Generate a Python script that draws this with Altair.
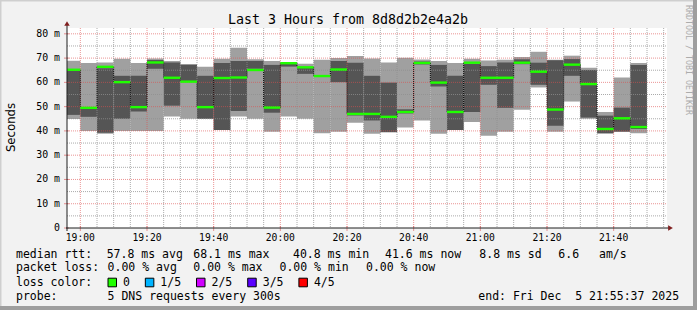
import altair as alt
import pandas as pd

# ---------------- data ----------------
bar_end = ["19:00", "19:05", "19:10", "19:15", "19:20", "19:25", "19:30", "19:35", "19:40", "19:45",
           "19:50", "19:55", "20:00", "20:05", "20:10", "20:15", "20:20", "20:25", "20:30", "20:35",
           "20:40", "20:45", "20:50", "20:55", "21:00", "21:05", "21:10", "21:15", "21:20", "21:25",
           "21:30", "21:35", "21:40", "21:45", "21:50"]
light_lo = [44.9, 40.0, 38.8, 40.0, 40.0, 40.0, 45.9, 45.0, 45.0, 40.4, 45.9, 45.0, 39.7, 45.9, 45.0,
            39.0, 39.7, 43.4, 38.8, 39.5, 41.4, 44.3, 38.8, 40.4, 43.7, 38.0, 39.7, 48.7, 57.9, 39.7,
            52.1, 45.0, 39.0, 39.7, 39.0]
light_hi = [68.9, 68.0, 68.2, 69.7, 68.0, 69.8, 68.8, 67.6, 66.4, 69.7, 74.3, 69.5, 68.8, 68.4, 67.7,
            69.3, 70.0, 70.9, 69.8, 68.2, 70.1, 69.4, 68.8, 68.0, 69.7, 69.0, 69.3, 70.5, 72.6, 69.3,
            71.0, 66.0, 47.8, 62.0, 68.0]
dark_lo = [46.6, 45.8, 39.2, 45.0, 48.0, 65.6, 50.4, 60.3, 45.0, 40.4, 48.2, 65.6, 47.5, 66.5, 63.5,
           62.6, 60.1, 46.3, 44.3, 39.5, 47.2, 67.4, 58.3, 40.4, 47.8, 59.0, 49.5, 67.5, 59.0, 42.1,
           62.7, 45.5, 39.0, 39.7, 40.8]
dark_hi = [65.0, 49.5, 65.8, 62.7, 62.7, 69.2, 68.2, 67.2, 62.7, 68.0, 68.8, 68.8, 67.2, 67.9, 66.4,
           62.6, 68.8, 68.1, 62.7, 59.9, 48.9, 68.6, 67.2, 62.7, 67.6, 66.7, 68.2, 69.5, 68.1, 69.1,
           69.6, 65.1, 46.3, 49.6, 67.2]
median = [65.2, 49.5, 66.4, 60.1, 49.8, 68.2, 61.9, 60.3, 49.8, 61.8, 62.0, 65.1, 49.6, 67.9, 66.2,
          62.6, 65.3, 47.0, 47.0, 45.8, 47.8, 68.0, 59.9, 47.8, 68.1, 61.9, 61.9, 68.1, 64.4, 48.8,
          67.3, 59.3, 40.8, 45.2, 41.6]

y_major = [10, 20, 30, 40, 50, 60, 70, 80]
y_minor = [5, 15, 25, 35, 45, 55, 65, 75]
y_tick_values = [0, 10, 20, 30, 40, 50, 60, 70, 80]
y_tick_labels = ["0", "10 m", "20 m", "30 m", "40 m", "50 m", "60 m", "70 m", "80 m"]
x_tick_labels = ["19:00", "19:20", "19:40", "20:00", "20:20", "20:40", "21:00", "21:20", "21:40"]
x_minor_labels = ["19:05", "19:10", "19:15", "19:25", "19:30", "19:35", "19:45", "19:50", "19:55",
                  "20:05", "20:10", "20:15", "20:25", "20:30", "20:35", "20:45", "20:50", "20:55",
                  "21:05", "21:10", "21:15", "21:25", "21:30", "21:35", "21:45", "21:50", "21:55"]

title_text = "Last 3 Hours from 8d8d2b2e4a2b"
loss_labels = ["0", "1/5", "2/5", "3/5", "4/5"]
loss_colors = ["#20ff00", "#00b4ff", "#d000ff", "#5a00ff", "#ff0000"]

# ---------------- layout ----------------
MONO = "DejaVu Sans Mono"
PL, PT = 67, 28
W, H = 600, 200
X_DOM = [-4.0, 176.0]
xs = alt.Scale(domain=X_DOM)
ys = alt.Scale(domain=[0, 82.4])
GRID = "rgba(143,143,143,0.75)"
MGRID = "rgba(222,79,79,0.6)"


def mins(t):
    h, m = t.split(":")
    return (int(h) - 19) * 60 + int(m)


ends = [mins(t) for t in bar_end]
starts = [max(e - 5, X_DOM[0]) for e in ends]
bars = pd.DataFrame(dict(s=starts, e=ends, llo=light_lo, lhi=light_hi,
                         dlo=dark_lo, dhi=dark_hi, med=median))

layers = []

layers.append(alt.Chart(bars).mark_rect(color="#a0a0a0").encode(
    x=alt.X("s:Q", scale=xs, axis=None), x2="e",
    y=alt.Y("llo:Q", scale=ys, axis=None), y2="lhi"))
layers.append(alt.Chart(bars).mark_rect(color="#555555").encode(
    x=alt.X("s:Q", scale=xs, axis=None), x2="e",
    y=alt.Y("dlo:Q", scale=ys, axis=None), y2="dhi"))

# grid
layers.append(alt.Chart(pd.DataFrame({"v": y_minor})).mark_rule(
    color=GRID, strokeDash=[1, 1], strokeWidth=1).encode(
    y=alt.Y("v:Q", scale=ys, axis=None), x=alt.value(0), x2=alt.value(W)))
layers.append(alt.Chart(pd.DataFrame({"v": y_major})).mark_rule(
    color=MGRID, strokeDash=[1, 1], strokeWidth=1).encode(
    y=alt.Y("v:Q", scale=ys, axis=None), x=alt.value(0), x2=alt.value(W)))
layers.append(alt.Chart(pd.DataFrame({"m": [mins(t) for t in x_minor_labels]})).mark_rule(
    color=GRID, strokeDash=[1, 1], strokeWidth=1).encode(
    x=alt.X("m:Q", scale=xs, axis=None), y=alt.value(0), y2=alt.value(H)))
layers.append(alt.Chart(pd.DataFrame({"m": [mins(t) for t in x_tick_labels]})).mark_rule(
    color=MGRID, strokeDash=[1, 1], strokeWidth=1).encode(
    x=alt.X("m:Q", scale=xs, axis=None), y=alt.value(0), y2=alt.value(H)))

# median transitions (dotted black verticals)
trans = pd.DataFrame([{"x": ends[i - 1], "a": median[i - 1], "b": median[i]}
                      for i in range(1, len(median)) if median[i] != median[i - 1]])
layers.append(alt.Chart(trans).mark_rule(color="#000000", strokeDash=[1, 1], strokeWidth=1).encode(
    x=alt.X("x:Q", scale=xs, axis=None), y=alt.Y("a:Q", scale=ys, axis=None), y2="b"))

# median line
layers.append(alt.Chart(bars).mark_rule(color=loss_colors[0], strokeWidth=2.4).encode(
    x=alt.X("s:Q", scale=xs, axis=None), x2="e",
    y=alt.Y("med:Q", scale=ys, axis=None)))

# axis ticks
layers.append(alt.Chart(pd.DataFrame({"v": y_tick_values})).mark_rule(color=MGRID, strokeWidth=1).encode(
    y=alt.Y("v:Q", scale=ys, axis=None), x=alt.value(-3), x2=alt.value(2)))
layers.append(alt.Chart(pd.DataFrame({"m": [mins(t) for t in x_tick_labels]})).mark_rule(
    color=MGRID, strokeWidth=1).encode(
    x=alt.X("m:Q", scale=xs, axis=None), y=alt.value(H - 2), y2=alt.value(H + 3)))

# axis lines and arrows
layers.append(alt.Chart(pd.DataFrame({"a": [0]})).mark_rule(color="#1f1f1f", strokeWidth=1).encode(
    x=alt.value(-1), x2=alt.value(W + 2), y=alt.value(H)))
layers.append(alt.Chart(pd.DataFrame({"a": [0]})).mark_rule(color="#1f1f1f", strokeWidth=1).encode(
    x=alt.value(0), y=alt.value(H + 3), y2=alt.value(-3)))
layers.append(alt.Chart(pd.DataFrame({"a": [0]})).mark_point(
    shape="triangle-right", filled=True, color="#801f1f", size=30, opacity=1).encode(
    x=alt.value(W + 3.5), y=alt.value(H)))
layers.append(alt.Chart(pd.DataFrame({"a": [0]})).mark_point(
    shape="triangle-up", filled=True, color="#801f1f", size=30, opacity=1).encode(
    x=alt.value(0), y=alt.value(-4.5)))

# tick labels
ylab = pd.DataFrame({"v": y_tick_values,
                     "t": [l if l != "0" else l + "\u00a0\u00a0" for l in y_tick_labels]})
layers.append(alt.Chart(ylab).mark_text(align="right", baseline="middle", font=MONO, fontSize=9.9,
                                        color="#000000").encode(
    y=alt.Y("v:Q", scale=ys, axis=None), x=alt.value(60 - PL), text="t:N"))
xlab = pd.DataFrame({"m": [mins(t) for t in x_tick_labels], "t": x_tick_labels})
layers.append(alt.Chart(xlab).mark_text(align="center", baseline="middle", font=MONO, fontSize=9.7,
                                        color="#000000").encode(
    x=alt.X("m:Q", scale=xs, axis=None), y=alt.value(237.7 - PT), text="t:N"))


def txt(s, x, y, size=11.5, align="left", font=MONO, color="#000000", angle=0):
    return alt.Chart(pd.DataFrame({"t": [s]})).mark_text(
        align=align, baseline="middle", font=font, fontSize=size, color=color, angle=angle).encode(
        x=alt.value(x - PL), y=alt.value(y - PT), text="t:N")


def box(x0, x1, y0, y1, color, stroke=None):
    kw = dict(color=color)
    if stroke:
        kw.update(stroke=stroke, strokeWidth=1)
    return alt.Chart(pd.DataFrame({"a": [0]})).mark_rect(**kw).encode(
        x=alt.value(x0 - PL), x2=alt.value(x1 - PL), y=alt.value(y0 - PT), y2=alt.value(y1 - PT))


# titles
layers.append(txt(title_text, 348, 19.5, size=13.3, align="center"))
layers.append(txt("Seconds", 10.5, 127.5, size=11.7, align="center", font="DejaVu Sans", angle=270))
layers.append(txt("RRDTOOL / TOBI OETIKER", 688, 5, size=8.3, color="#acacac", angle=90))

# legend rows
r1, r2, r3, r4 = 254.7, 268.3, 282.5, 297.0
for s, x in [("median rtt:", 16), ("57.8 ms avg", 106.7), ("68.1 ms max", 193.3),
             ("40.8 ms min", 293.0), ("41.6 ms now", 385.0), ("8.8 ms sd", 479.3),
             ("6.6", 558.3), ("am/s", 599.0)]:
    layers.append(txt(s, x, r1))
for s, x in [("packet loss:", 16), ("0.00 % avg", 107.6), ("0.00 % max", 193.3),
             ("0.00 % min", 279.5), ("0.00 % now", 366.0)]:
    layers.append(txt(s, x, r2))
layers.append(txt("loss color:", 16, r3))
bx = 108.0
for lab, col in zip(loss_labels, loss_colors):
    layers.append(box(bx, bx + 8.5, r3 - 4.3, r3 + 4.3, col, stroke="#000000"))
    layers.append(txt(lab, bx + 15, r3))
    bx = bx + 15 + len(lab) * 6.93 + 15.4
layers.append(txt("probe:", 16, r4))
layers.append(txt("5 DNS requests every 300s", 107.6, r4))
layers.append(txt("end: Fri Dec\u00a0\u00a05 21:55:37 2025", 478.3, r4))

# frame shading
layers.append(box(0, 697, 0, 1.5, "#cfcfcf"))
layers.append(box(0, 1.5, 0, 310, "#cfcfcf"))
layers.append(box(693, 697, 0, 310, "#9e9e9e"))
layers.append(box(0, 697, 306, 310, "#9e9e9e"))

chart = alt.layer(*layers).properties(
    width=W, height=H,
    padding={"left": PL, "top": PT, "right": 697 - PL - W, "bottom": 310 - PT - H},
    autosize=alt.AutoSizeParams(type="none"),
    background="#f2f2f2",
).configure_view(fill="white", stroke=None)

chart.save("out.html", embed_options={"renderer": "svg", "actions": False})
